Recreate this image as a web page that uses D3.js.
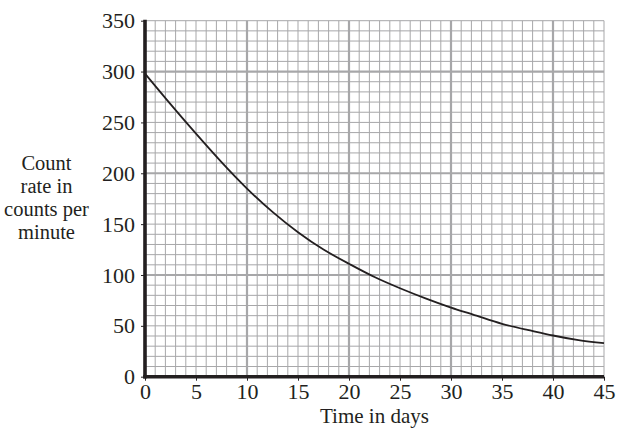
<!DOCTYPE html>
<html>
<head>
<meta charset="utf-8">
<script src="https://cdn.jsdelivr.net/npm/d3@7"></script>
<style>
  body { margin: 0; background: #fff; }
  text { font-family: "Liberation Serif", "DejaVu Serif", serif; fill: #231f20; }
</style>
</head>
<body>
<div id="chart"></div>
<script>
// count rate
const days = [0, 2.5, 5, 7.5, 10, 12.5, 15, 17.5, 20, 22.5, 25, 27.5, 30, 32.5, 35, 37.5, 40, 42.5, 45];
const counts = [298, 268, 239, 211, 185, 162, 142, 125, 111, 98, 87, 77, 68, 60, 52, 46, 40.5, 36, 33];
const xTicks = [0, 5, 10, 15, 20, 25, 30, 35, 40, 45];
const yTicks = [0, 50, 100, 150, 200, 250, 300, 350];
const yTitle = ["Count", "rate in", "counts per", "minute"];
const xTitle = "Time in days";

const width = 621, height = 437;
const margin = {left: 145, right: 17, top: 20.7, bottom: 60.3};

const svg = d3.select("#chart").append("svg")
    .attr("width", width)
    .attr("height", height);

const x = d3.scaleLinear().domain([0, 45]).range([margin.left, width - margin.right]);
const y = d3.scaleLinear().domain([0, 350]).range([height - margin.bottom, margin.top]);

// grid
const grid = svg.append("g");
grid.selectAll("line.vx")
    .data(d3.range(0, 46, 1))
    .join("line")
    .attr("x1", d => x(d)).attr("x2", d => x(d))
    .attr("y1", y(0)).attr("y2", y(350))
    .attr("stroke", "#a7a7a9")
    .attr("stroke-width", d => d % 10 === 0 ? 2.2 : 1);
grid.selectAll("line.hy")
    .data(d3.range(0, 351, 10))
    .join("line")
    .attr("y1", d => y(d)).attr("y2", d => y(d))
    .attr("x1", x(0)).attr("x2", x(45))
    .attr("stroke", "#a7a7a9")
    .attr("stroke-width", d => d % 100 === 0 ? 2.2 : 1);

// curve
const line = d3.line()
    .x((d, i) => x(days[i]))
    .y(d => y(d))
    .curve(d3.curveNatural);
svg.append("path")
    .datum(counts)
    .attr("fill", "none")
    .attr("stroke", "#231f20")
    .attr("stroke-width", 1.8)
    .attr("d", line);

// axes
const gx = svg.append("g")
    .attr("transform", "translate(0," + y(0) + ")")
    .call(d3.axisBottom(x).tickValues(xTicks).tickSizeInner(4).tickSizeOuter(0).tickPadding(3));
const gy = svg.append("g")
    .attr("transform", "translate(" + x(0) + ",0)")
    .call(d3.axisLeft(y).tickValues(yTicks).tickSizeInner(4).tickSizeOuter(0).tickPadding(6));

[gx, gy].forEach(g => {
    g.select(".domain").attr("stroke", "#231f20").attr("stroke-width", 3.6);
    g.selectAll(".tick line").attr("stroke", "#231f20").attr("stroke-width", 1);
    g.selectAll(".tick text").attr("font-size", 22).attr("fill", "#231f20")
        .style("font-family", "'Liberation Serif', serif");
});
gy.select(".domain").attr("d", "M0," + (y(0) + 1.8) + "V" + (y(350) - 1));
gx.select(".domain").attr("d", "M" + (x(0) - 1.8) + ",0H" + x(45));

// titles
svg.append("text")
    .attr("x", (x(0) + x(45)) / 2)
    .attr("y", 423)
    .attr("text-anchor", "middle")
    .attr("font-size", 21)
    .text(xTitle);

svg.append("g").selectAll("text")
    .data(yTitle)
    .join("text")
    .attr("x", 46.5)
    .attr("y", (d, i) => 170 + i * 23)
    .attr("text-anchor", "middle")
    .attr("font-size", 20.5)
    .text(d => d);
</script>
</body>
</html>
